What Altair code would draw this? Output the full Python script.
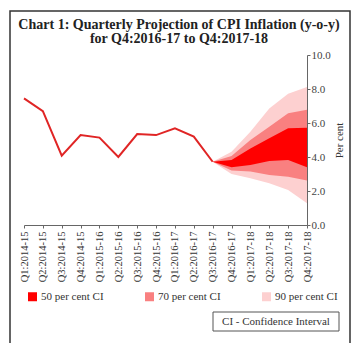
import altair as alt
import pandas as pd

quarters = ["Q1:2014-15", "Q2:2014-15", "Q3:2014-15", "Q4:2014-15",
            "Q1:2015-16", "Q2:2015-16", "Q3:2015-16", "Q4:2015-16",
            "Q1:2016-17", "Q2:2016-17", "Q3:2016-17", "Q4:2016-17",
            "Q1:2017-18", "Q2:2017-18", "Q3:2017-18", "Q4:2017-18"]

actual_q = quarters[:11]
actual_v = [7.45, 6.7, 4.08, 5.29, 5.14, 4.0, 5.35, 5.29, 5.69, 5.2, 3.72]

fan_q = quarters[10:]
lo90 = [3.72, 3.0, 2.75, 2.45, 2.06, 1.28]
hi90 = [3.72, 4.31, 5.49, 6.86, 7.72, 8.12]
lo70 = [3.72, 3.2, 3.14, 2.94, 2.84, 2.62]
hi70 = [3.72, 4.06, 5.0, 5.78, 6.57, 6.78]
lo50 = [3.72, 3.39, 3.53, 3.76, 3.82, 3.39]
hi50 = [3.72, 3.82, 4.5, 5.1, 5.69, 5.72]

ci_names = ["50 per cent CI", "70 per cent CI", "90 per cent CI"]
ci_colors = ["#ff0000", "#f98080", "#fdd0d0"]

title_line1 = "Chart 1: Quarterly Projection of CPI Inflation (y-o-y)"
title_line2 = "for Q4:2016-17 to Q4:2017-18"
note_text = "CI - Confidence Interval"

FONT = "Liberation Serif"

actual_df = pd.DataFrame({"q": actual_q, "v": actual_v})
band_rows = []
for name, lo, hi in [(ci_names[2], lo90, hi90), (ci_names[1], lo70, hi70), (ci_names[0], lo50, hi50)]:
    for q, a, b in zip(fan_q, lo, hi):
        band_rows.append({"q": q, "lo": a, "hi": b, "ci": name})
band_df = pd.DataFrame(band_rows)

xenc = alt.X("q:O", sort=quarters, scale=alt.Scale(domain=quarters, padding=0),
             axis=alt.Axis(title=None, labelAngle=-90, labelFont=FONT, labelFontSize=10.5,
                           labelColor="#333", domainColor="#666", tickColor="#666",
                           tickSize=3, labelPadding=3))
yscale = alt.Scale(domain=[0, 10])
yaxis = alt.Axis(orient="right", title="Per cent", values=[0, 2, 4, 6, 8, 10], format=".1f",
                 titleFont=FONT, titleFontSize=11, titleFontWeight="normal", titleColor="#333",
                 titleAngle=270, titleBaseline="top",
                 labelFont=FONT, labelFontSize=11, labelColor="#444", grid=False,
                 domainColor="#666", tickColor="#666", tickSize=3, labelPadding=1,
                 titlePadding=3)

color = alt.Color("ci:N", scale=alt.Scale(domain=ci_names, range=ci_colors),
                  legend=alt.Legend(title=None, orient="none", legendX=3, legendY=236,
                                    direction="horizontal", symbolType="square", symbolSize=81,
                                    symbolStrokeWidth=0, symbolOpacity=1,
                                    labelFont=FONT, labelFontSize=11, labelColor="#333",
                                    columnPadding=40, labelOffset=3))

layers = []
for name in ci_names[::-1]:
    layers.append(
        alt.Chart(band_df[band_df.ci == name]).mark_area(opacity=1).encode(
            x=xenc, y=alt.Y("lo:Q", scale=yscale, axis=yaxis), y2="hi:Q", color=color)
    )

line = alt.Chart(actual_df).mark_line(color="#e02525", strokeWidth=2).encode(
    x=xenc, y=alt.Y("v:Q", scale=yscale, axis=yaxis))

one = pd.DataFrame({"k": [0]})
border = alt.Chart(one).mark_rect(fill=None, filled=False, stroke="#333", strokeWidth=1.5).encode(
    x=alt.value(-14), x2=alt.value(326), y=alt.value(-44), y2=alt.value(289))
cibox = alt.Chart(one).mark_rect(fill=None, filled=False, stroke="#555", strokeWidth=1).encode(
    x=alt.value(189), x2=alt.value(315), y=alt.value(257), y2=alt.value(276))
citext = alt.Chart(pd.DataFrame({"t": [note_text]})).mark_text(
    font=FONT, fontSize=11, color="#333", align="center", baseline="middle").encode(
    x=alt.value(252), y=alt.value(267), text="t:N")


def title_text(s, yv):
    return alt.Chart(pd.DataFrame({"t": [s]})).mark_text(
        font=FONT, fontSize=14, fontWeight="bold", color="#222", align="center",
        baseline="alphabetic").encode(x=alt.value(155), y=alt.value(yv), text="t:N")


chart = alt.layer(*layers, line, border, cibox, citext,
                  title_text(title_line1, -26), title_text(title_line2, -12)).properties(
    width=283, height=170,
    autosize=alt.AutoSizeParams(type="none"),
    padding={"left": 16, "top": 47, "right": 45, "bottom": 118},
).configure_view(stroke=None)

chart.save("out.html", embed_options={"renderer": "svg", "actions": False})
